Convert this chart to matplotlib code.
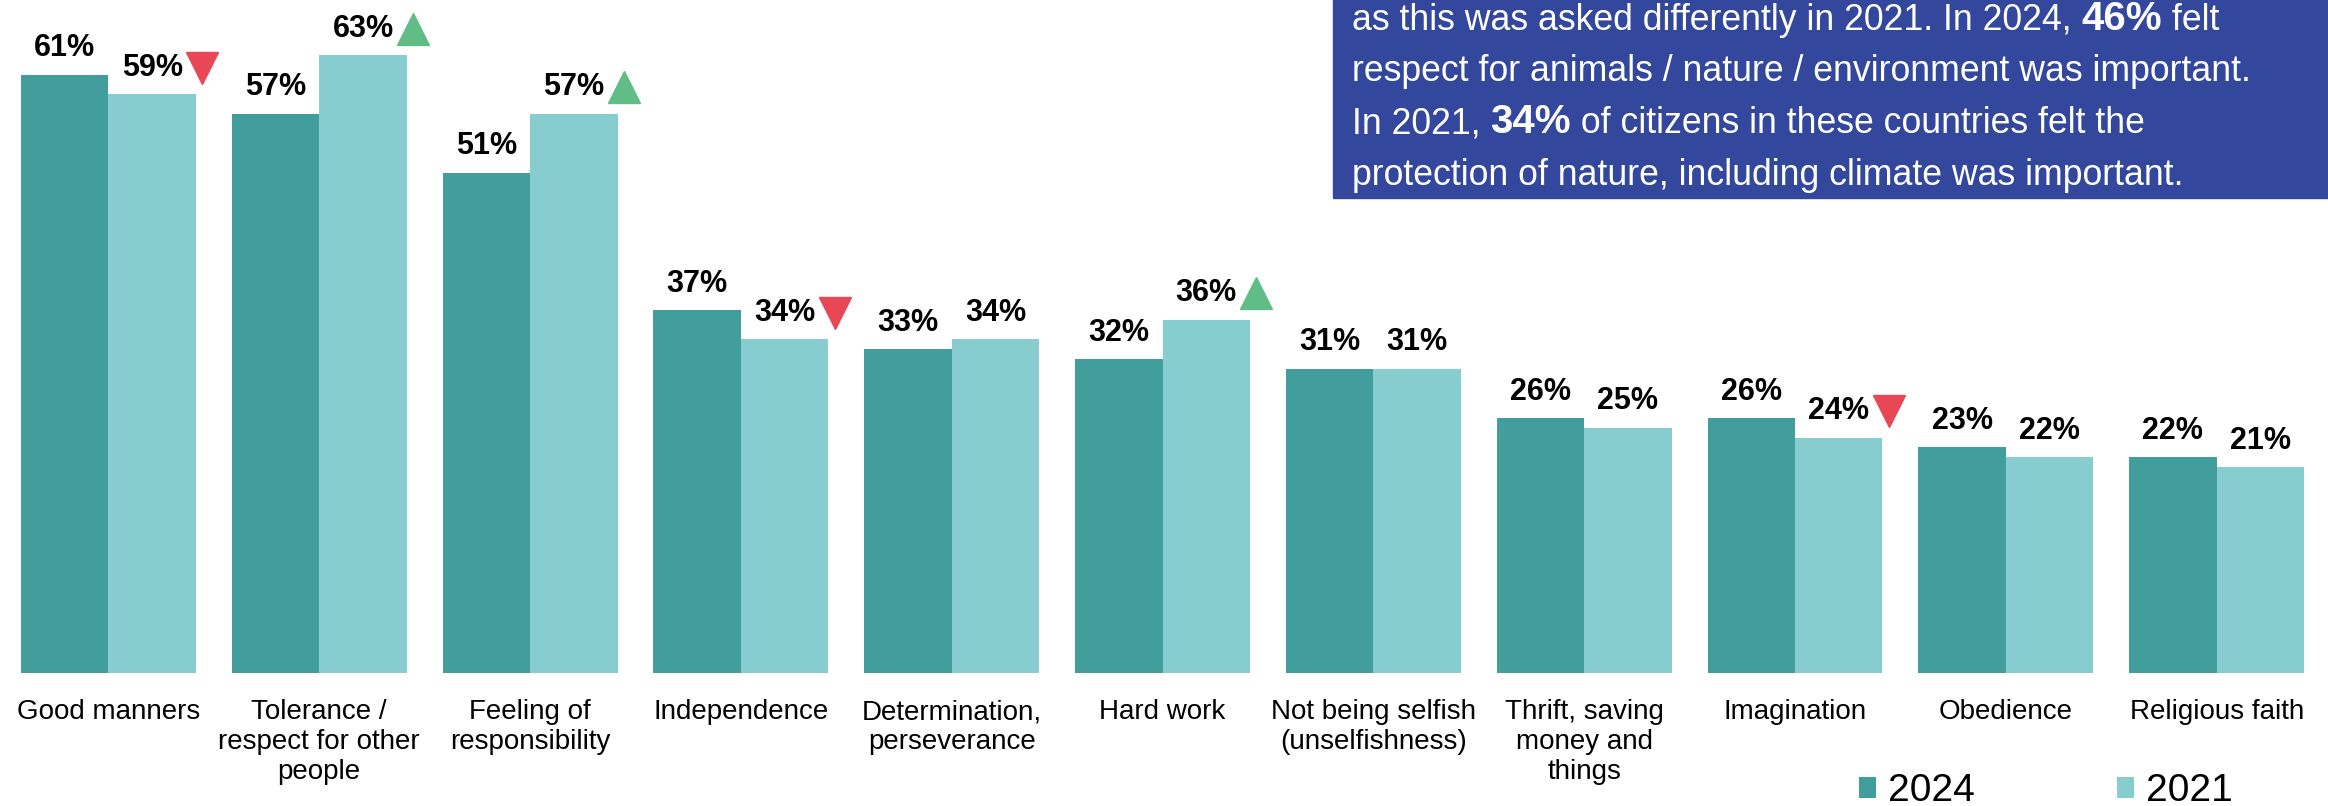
import numpy as np
import matplotlib.pyplot as plt
from matplotlib.patches import Rectangle
from matplotlib.transforms import offset_copy

plt.rcParams['font.family'] = ['Liberation Sans', 'DejaVu Sans']

# data
categories = ["Good manners", "Tolerance /\nrespect for other\npeople", "Feeling of\nresponsibility",
              "Independence", "Determination,\nperseverance", "Hard work",
              "Not being selfish\n(unselfishness)", "Thrift, saving\nmoney and\nthings",
              "Imagination", "Obedience", "Religious faith"]
values_2024 = [61, 57, 51, 37, 33, 32, 31, 26, 26, 23, 22]
values_2021 = [59, 63, 57, 34, 34, 36, 31, 25, 24, 22, 21]
change_2021 = ['down', 'up', 'up', 'down', '', 'up', '', '', 'down', '', '']
series_names = ['2024', '2021']

note_lines = [
    [("as this was asked differently in 2021. In 2024, ", False), ("46%", True), (" felt", False)],
    [("respect for animals / nature / environment was important.", False)],
    [("In 2021, ", False), ("34%", True), (" of citizens in these countries felt the", False)],
    [("protection of nature, including climate was important.", False)],
]

c2024 = '#429E9D'
c2021 = '#87CDD0'
c_up = '#5FBD85'
c_down = '#E84756'
c_box = '#33479D'

W, H = 2328, 806
fig = plt.figure(figsize=(W / 100, H / 100), dpi=100)
ax = fig.add_axes([0, 1 - 673 / H, 1, 673 / H])
ax.patch.set_visible(False)

x = np.arange(len(categories))
w = 0.415
b1 = ax.bar(x - w / 2, values_2024, w, color=c2024, label=series_names[0])
b2 = ax.bar(x + w / 2, values_2021, w, color=c2021, label=series_names[1])

off = 19
for xi, v in zip(x - w / 2, values_2024):
    ax.annotate(f"{v}%", (xi, v), xytext=(0, off), textcoords='offset points',
                ha='center', va='center', fontsize=22, fontweight='bold')
for xi, v in zip(x + w / 2, values_2021):
    ax.annotate(f"{v}%", (xi, v), xytext=(0, off), textcoords='offset points',
                ha='center', va='center', fontsize=22, fontweight='bold')

# change markers next to the 2021 labels
tr = offset_copy(ax.transData, fig=fig, y=off, units='points')
for xi, v, ch in zip(x, values_2021, change_2021):
    if ch == 'up':
        ax.plot(xi + w + 0.03, v, marker='^', ms=23, color=c_up, transform=tr, clip_on=False)
    elif ch == 'down':
        ax.plot(xi + w + 0.03, v, marker='v', ms=23, color=c_down, transform=tr, clip_on=False)

ax.set_xlim(-73 / 142, (1568 - 73) / 142)
ax.set_ylim(0, 68.6)
ax.set_xticks(x)
ax.set_xticklabels(categories, fontsize=20)
ax.tick_params(axis='x', length=0, pad=19)
ax.set_yticks([])
for s in ax.spines.values():
    s.set_visible(False)

fig.legend(handles=[b1, b2], loc='center left', bbox_to_anchor=(1252 / 1568, 15 / H),
           ncol=2, frameon=False, fontsize=28, handlelength=0.45, handleheight=0.45,
           handletextpad=0.3, columnspacing=3.65, borderpad=0, borderaxespad=0)

# note box top right
fig.patches.append(Rectangle((1333 / W, 1 - 198 / H), 1, 1, transform=fig.transFigure,
                             color=c_box, zorder=-1))
bottoms = [38, 89, 141, 193]
for parts, yb in zip(note_lines, bottoms):
    last = None
    for txt, bold in parts:
        kw = dict(color='white', fontsize=29 if bold else 25.7,
                  fontweight='bold' if bold else 'normal', ha='left', va='bottom')
        if last is None:
            last = fig.text(1352 / W, 1 - yb / H, txt, **kw)
        else:
            last = ax.annotate(txt, xy=(1, 0), xycoords=last, annotation_clip=False, **kw)

fig.savefig('out.png', dpi=100)
